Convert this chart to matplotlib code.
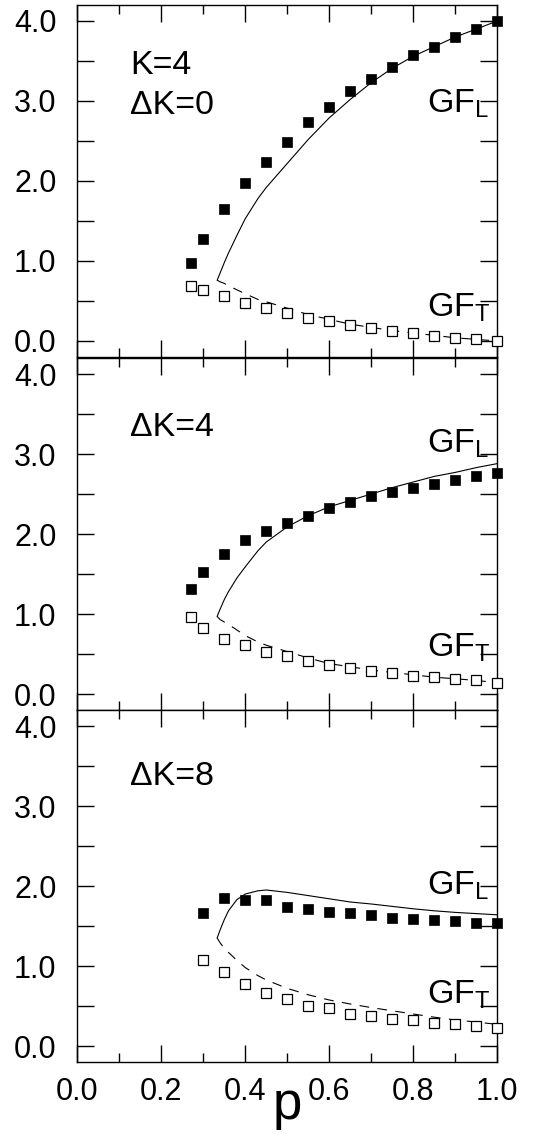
#!/usr/bin/env python3

import numpy as np
import matplotlib
matplotlib.use("Agg")
import matplotlib.pyplot as plt
from matplotlib.ticker import MultipleLocator

plt.rcParams['font.family'] = ['Liberation Sans', 'DejaVu Sans']
plt.rcParams['mathtext.fontset'] = 'custom'
plt.rcParams['mathtext.rm'] = 'Liberation Sans'
plt.rcParams['mathtext.it'] = 'Liberation Sans'
plt.rcParams['lines.scale_dashes'] = False

# ------------------------------------------------------------
# Data
# ------------------------------------------------------------

p_sim = [0.27, 0.30, 0.35, 0.40, 0.45, 0.50, 0.55, 0.60, 0.65, 0.70,
         0.75, 0.80, 0.85, 0.90, 0.95, 1.00]
p_sim8 = p_sim[1:]

gfl_dk0 = [0.98, 1.28, 1.65, 1.97, 2.24, 2.49, 2.74, 2.93, 3.12, 3.28,
           3.43, 3.57, 3.68, 3.80, 3.90, 4.00]
gft_dk0 = [0.69, 0.64, 0.56, 0.48, 0.41, 0.35, 0.29, 0.25, 0.20, 0.167,
           0.125, 0.104, 0.067, 0.04, 0.02, 0.00]

gfl_dk4 = [1.31, 1.52, 1.75, 1.92, 2.04, 2.14, 2.23, 2.32, 2.40, 2.47,
           2.52, 2.58, 2.63, 2.68, 2.72, 2.76]
gft_dk4 = [0.96, 0.83, 0.69, 0.61, 0.52, 0.47, 0.41, 0.36, 0.32, 0.29,
           0.26, 0.23, 0.21, 0.19, 0.17, 0.14]

gfl_dk8 = [1.66, 1.85, 1.82, 1.82, 1.74, 1.71, 1.675, 1.66, 1.64,
           1.60, 1.59, 1.575, 1.56, 1.54, 1.54]
gft_dk8 = [1.075, 0.92, 0.775, 0.66, 0.59, 0.50, 0.48, 0.40, 0.375,
           0.34, 0.32, 0.29, 0.27, 0.245, 0.23]

# theory curves
p_th = [0.333, 0.34, 0.35, 0.36, 0.38, 0.40, 0.43, 0.45, 0.50, 0.55,
        0.60, 0.65, 0.70, 0.75, 0.80, 0.85, 0.90, 0.95, 1.00]

thl_dk0 = [0.76, 0.85, 0.98, 1.10, 1.32, 1.53, 1.78, 1.92, 2.22, 2.52,
           2.79, 3.02, 3.23, 3.41, 3.56, 3.68, 3.80, 3.90, 4.00]
tht_dk0 = [0.76, 0.74, 0.72, 0.69, 0.64, 0.59, 0.52, 0.49, 0.41, 0.33,
           0.27, 0.21, 0.17, 0.13, 0.10, 0.07, 0.04, 0.02, 0.00]

thl_dk4 = [0.97, 1.06, 1.18, 1.28, 1.45, 1.59, 1.79, 1.90, 2.09, 2.23,
           2.34, 2.42, 2.50, 2.58, 2.65, 2.72, 2.77, 2.83, 2.88]
tht_dk4 = [0.97, 0.93, 0.90, 0.87, 0.80, 0.73, 0.65, 0.61, 0.53, 0.45,
           0.38, 0.34, 0.30, 0.27, 0.24, 0.21, 0.19, 0.17, 0.14]

thl_dk8 = [1.35, 1.45, 1.58, 1.69, 1.83, 1.90, 1.94, 1.95, 1.92, 1.88,
           1.84, 1.80, 1.775, 1.745, 1.715, 1.69, 1.67, 1.655, 1.64]
tht_dk8 = [1.35, 1.29, 1.22, 1.17, 1.07, 0.98, 0.88, 0.825, 0.72, 0.64,
           0.575, 0.525, 0.48, 0.44, 0.40, 0.36, 0.325, 0.30, 0.27]

panels = [
    (p_sim, gfl_dk0, gft_dk0, thl_dk0, tht_dk0, ["K=4", "\u0394K=0"],
     [3.34, 2.84], 2.86, 0.31),
    (p_sim, gfl_dk4, gft_dk4, thl_dk4, tht_dk4, ["\u0394K=4"],
     [3.23], 3.02, 0.465),
    (p_sim8, gfl_dk8, gft_dk8, thl_dk8, tht_dk8, ["\u0394K=8"],
     [3.26], 1.89, 0.53),
]


# ------------------------------------------------------------
# Drawing
# ------------------------------------------------------------

def style_axis(ax, bottom_labels):
    ax.set_xlim(0.0, 1.0)
    ax.set_ylim(-0.2, 4.2)
    ax.xaxis.set_major_locator(MultipleLocator(0.2))
    ax.xaxis.set_minor_locator(MultipleLocator(0.1))
    ax.yaxis.set_major_locator(MultipleLocator(1.0))
    ax.yaxis.set_minor_locator(MultipleLocator(0.5))
    ax.tick_params(which='both', direction='in', top=True, right=True,
                   width=1.0, labelsize=22)
    ax.tick_params(axis='x', which='major', length=12, pad=11)
    ax.tick_params(axis='x', which='minor', length=6.5)
    ax.tick_params(axis='y', which='both', length=12, pad=15)
    ax.yaxis.set_major_formatter(plt.FormatStrFormatter('%.1f'))
    ax.xaxis.set_major_formatter(plt.FormatStrFormatter('%.1f'))
    if not bottom_labels:
        ax.tick_params(axis='x', labelbottom=False)
    for s in ax.spines.values():
        s.set_linewidth(1.0)


def draw_panel(ax, p, gfl, gft, thl, tht, labels, label_y, yl, yt):
    ax.plot(p_th, thl, color='black', lw=0.8, zorder=2)
    ax.plot(p_th, tht, color='black', lw=0.8, dashes=(7, 6), zorder=2)
    ax.plot(p, gfl, 's', ms=7.5, color='black', mec='black', mew=0.5,
            zorder=3, clip_on=False)
    ax.plot(p, gft, 's', ms=7.0, mfc='white', mec='black', mew=0.9,
            zorder=3, clip_on=False)

    for txt, y in zip(labels, label_y):
        ax.text(0.125, y, txt, fontsize=24.5, ha='left', va='baseline')

    ax.text(0.832, yl, r'GF$_{\mathrm{L}}$', fontsize=24.5, ha='left',
            va='baseline')
    ax.text(0.832, yt, r'GF$_{\mathrm{T}}$', fontsize=24.5, ha='left',
            va='baseline')


def main():
    fig = plt.figure(figsize=(5.44, 11.35), dpi=100)

    left = 77.3 / 544
    width = 420 / 544
    tops = [5, 358, 710]
    h = 352

    for i, panel in enumerate(panels):
        bottom = (1135 - tops[i] - h) / 1135
        ax = fig.add_axes([left, bottom, width, h / 1135])
        style_axis(ax, bottom_labels=(i == 2))
        draw_panel(ax, *panel)
        if i == 2:
            ax.set_xlabel("p", fontsize=38, labelpad=-20)

    fig.savefig("out.png", dpi=100)


if __name__ == "__main__":
    main()
